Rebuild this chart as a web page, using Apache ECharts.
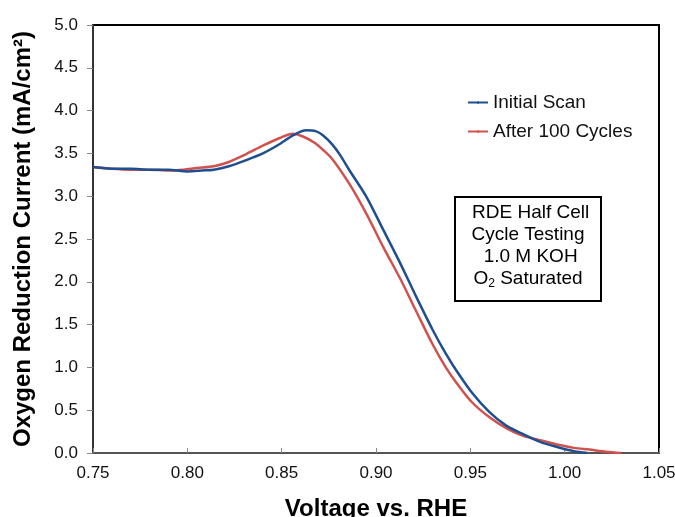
<!DOCTYPE html>
<html>
<head>
<meta charset="utf-8">
<script src="https://cdn.jsdelivr.net/npm/echarts@6/dist/echarts.min.js"></script>
<style>
  html, body { margin: 0; padding: 0; background: #fff; }
  #chart { width: 675px; height: 517px; }
</style>
</head>
<body>
<div id="chart"></div>
<script>
  // values
  const initialVolts = [0.750, 0.760, 0.770, 0.780, 0.790, 0.800, 0.808, 0.814, 0.822, 0.831,
    0.840, 0.849, 0.856, 0.863, 0.868, 0.872, 0.877, 0.881, 0.886, 0.895, 0.904, 0.913,
    0.921, 0.930, 0.937, 0.943, 0.951, 0.960, 0.969, 0.978, 0.987, 0.996, 1.005, 1.012];
  const initialCurrent = [3.34, 3.32, 3.32, 3.31, 3.31, 3.29, 3.30, 3.31, 3.35, 3.42,
    3.50, 3.61, 3.71, 3.77, 3.76, 3.71, 3.60, 3.48, 3.30, 2.99, 2.60, 2.21,
    1.84, 1.44, 1.16, 0.95, 0.70, 0.48, 0.32, 0.22, 0.13, 0.07, 0.02, 0.00];

  const cycledVolts = [0.750, 0.760, 0.770, 0.780, 0.790, 0.798, 0.805, 0.814, 0.822, 0.831,
    0.840, 0.849, 0.856, 0.861, 0.867, 0.872, 0.877, 0.886, 0.895, 0.904, 0.913, 0.921,
    0.930, 0.937, 0.943, 0.951, 0.960, 0.969, 0.978, 0.987, 0.996, 1.005, 1.013, 1.022, 1.030];
  const cycledCurrent = [3.34, 3.32, 3.31, 3.31, 3.30, 3.31, 3.33, 3.35, 3.40, 3.49,
    3.59, 3.68, 3.73, 3.70, 3.63, 3.54, 3.43, 3.14, 2.79, 2.40, 2.03, 1.67,
    1.27, 1.00, 0.81, 0.59, 0.42, 0.29, 0.20, 0.15, 0.10, 0.06, 0.04, 0.015, 0.00];

  const seriesNames = ['Initial Scan', 'After 100 Cycles'];
  const seriesColors = ['#1f4f8e', '#d0524e'];
  const noteLines = [' RDE Half Cell', 'Cycle Testing', ' 1.0 M KOH'];

  function pairs(xs, ys) {
    return xs.map(function (x, i) { return [x, ys[i]]; });
  }

  const chart = echarts.init(document.getElementById('chart'), null, { renderer: 'canvas' });
  const font = 'Liberation Sans, Arial, sans-serif';

  chart.setOption({
    animation: false,
    backgroundColor: '#fff',
    textStyle: { fontFamily: font },
    grid: {
      left: 93, right: 16, top: 25, bottom: 64,
      outerBoundsMode: 'none', containLabel: false,
      show: true, borderColor: '#000', borderWidth: 2, backgroundColor: 'transparent'
    },
    legend: {
      orient: 'vertical',
      left: 467, top: 93,
      itemWidth: 20, itemHeight: 3, itemGap: 10,
      padding: 0,
      textStyle: { fontSize: 19, color: '#111', fontFamily: font },
      data: seriesNames
    },
    xAxis: {
      type: 'value',
      min: 0.75, max: 1.05, interval: 0.05,
      name: 'Voltage vs. RHE',
      nameLocation: 'middle', nameGap: 44,
      nameTextStyle: { fontSize: 24, fontWeight: 'bold', color: '#000', fontFamily: font },
      axisLine: { onZero: false, lineStyle: { color: '#555', width: 2 } },
      axisTick: { inside: true, length: 5, lineStyle: { color: '#888', width: 1 } },
      axisLabel: {
        fontSize: 17, color: '#111', margin: 12,
        formatter: function (v) { return v.toFixed(2); }
      },
      splitLine: { show: false }
    },
    yAxis: {
      type: 'value',
      min: 0, max: 5, interval: 0.5,
      name: 'Oxygen Reduction Current (mA/cm²)',
      nameLocation: 'middle', nameGap: 58,
      nameTextStyle: { fontSize: 24, fontWeight: 'bold', color: '#000', fontFamily: font },
      axisLine: { show: true, lineStyle: { color: '#333', width: 2 } },
      axisTick: { show: true, inside: false, length: 6, lineStyle: { color: '#888', width: 1 } },
      axisLabel: {
        fontSize: 17, color: '#111', margin: 15,
        formatter: function (v) { return v.toFixed(1); }
      },
      splitLine: { show: false }
    },
    graphic: [
      {
        type: 'rect',
        shape: { x: 455, y: 197, width: 146, height: 104 },
        style: { fill: '#fff', stroke: '#000', lineWidth: 2 },
        z: 10
      },
      {
        type: 'text',
        x: 528, y: 202,
        z: 11,
        style: {
          text: noteLines.join('\n') + '\n{o|O}{sub|2}{o| Saturated}',
          fontSize: 19, fontFamily: font, fill: '#000',
          align: 'center', lineHeight: 22,
          rich: {
            o: { fontSize: 19, fontFamily: font, fill: '#000', lineHeight: 22 },
            sub: { fontSize: 12, fontFamily: font, fill: '#000', padding: [10, 0, 0, 0], lineHeight: 22 }
          }
        }
      }
    ],
    series: [
      {
        name: seriesNames[0],
        type: 'line',
        data: pairs(initialVolts, initialCurrent),
        smooth: 0.3,
        symbol: 'none',
        lineStyle: { color: seriesColors[0], width: 2.5 },
        itemStyle: { color: seriesColors[0] },
        z: 3
      },
      {
        name: seriesNames[1],
        type: 'line',
        data: pairs(cycledVolts, cycledCurrent),
        smooth: 0.3,
        symbol: 'none',
        lineStyle: { color: seriesColors[1], width: 2.5 },
        itemStyle: { color: seriesColors[1] },
        z: 2
      }
    ]
  });
</script>
</body>
</html>
